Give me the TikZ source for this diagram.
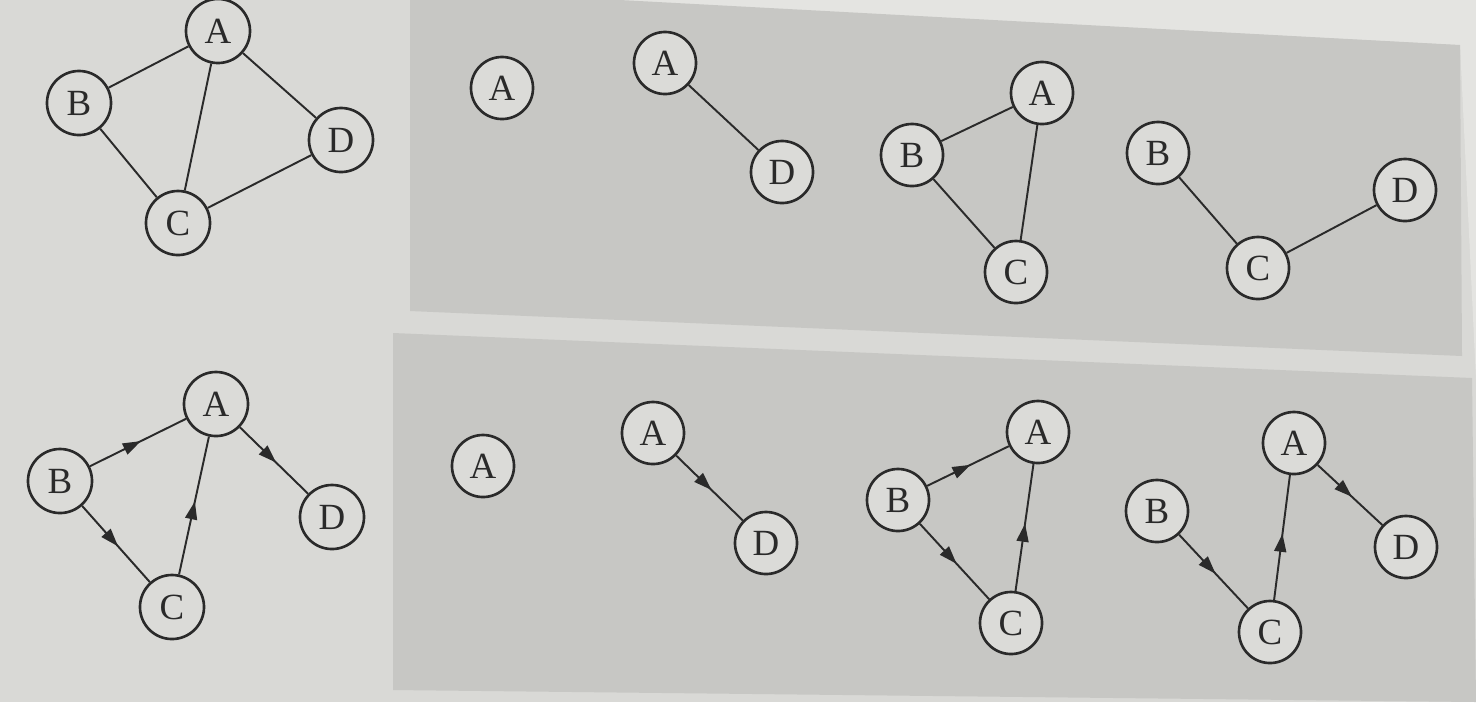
\documentclass[tikz,border=0pt]{standalone}
\usepackage{fontspec}
\setmainfont{Liberation Serif}
\usetikzlibrary{arrows.meta,decorations.markings}
\definecolor{pagebg}{HTML}{D9D9D6}
\definecolor{pagelight}{HTML}{E4E4E1}
\definecolor{panelbg}{HTML}{C7C7C4}
\definecolor{nodebg}{HTML}{DBDBD8}
\definecolor{inkc}{HTML}{2A2A2A}
\tikzset{
  vtx/.style={circle,draw=inkc,line width=0.75pt,fill=nodebg,minimum size=6.2mm,inner sep=0pt,
    font=\fontsize{10.5}{12}\selectfont,text=inkc},
  vtxbig/.style={vtx,minimum size=6.4mm},
  edge/.style={draw=inkc,line width=0.55pt},
  midarrow/.style={edge,postaction={decorate,decoration={markings,
    mark=at position 0.53 with {\arrow[inkc]{Triangle[length=1.8mm,width=1.2mm]}}}}}
}
\begin{document}
\begin{tikzpicture}[x=0.01cm,y=-0.01cm]
\useasboundingbox (0,0) rectangle (1476,702);
% page
\fill[pagebg] (0,0) rectangle (1476,702);
\fill[pagelight] (600,0) -- (1476,0) -- (1476,380) -- (1460,45) -- cycle;
% panels
\fill[panelbg] (410,0) -- (620,0) -- (1460,45) -- (1462,356) -- (410,311) -- cycle;
\fill[panelbg] (393,333) -- (1472,378) -- (1476,702) -- (393,690) -- cycle;

% top-left graph
\node[vtxbig] (a1) at (218,31) {A};
\node[vtxbig] (b1) at (79,103) {B};
\node[vtxbig] (d1) at (341,140) {D};
\node[vtxbig] (c1) at (178,223) {C};
\draw[edge] (a1) -- (b1);
\draw[edge] (a1) -- (c1);
\draw[edge] (a1) -- (d1);
\draw[edge] (b1) -- (c1);
\draw[edge] (c1) -- (d1);

% top panels
\node[vtx] (t1a) at (502,88) {A};

\node[vtx] (t2a) at (665,63) {A};
\node[vtx] (t2d) at (782,172) {D};
\draw[edge] (t2a) -- (t2d);

\node[vtx] (t3a) at (1042,93) {A};
\node[vtx] (t3b) at (912,155) {B};
\node[vtx] (t3c) at (1016,272) {C};
\draw[edge] (t3b) -- (t3a);
\draw[edge] (t3b) -- (t3c);
\draw[edge] (t3c) -- (t3a);

\node[vtx] (t4b) at (1158,153) {B};
\node[vtx] (t4d) at (1405,190) {D};
\node[vtx] (t4c) at (1258,268) {C};
\draw[edge] (t4b) -- (t4c);
\draw[edge] (t4c) -- (t4d);

% bottom-left digraph
\node[vtxbig] (a2) at (216,404) {A};
\node[vtxbig] (b2) at (60,481) {B};
\node[vtxbig] (d2) at (332,517) {D};
\node[vtxbig] (c2) at (172,607) {C};
\draw[midarrow] (b2) -- (a2);
\draw[midarrow] (b2) -- (c2);
\draw[midarrow] (c2) -- (a2);
\draw[midarrow] (a2) -- (d2);

% bottom panels
\node[vtx] (u1a) at (483,466) {A};

\node[vtx] (u2a) at (653,433) {A};
\node[vtx] (u2d) at (766,543) {D};
\draw[midarrow] (u2a) -- (u2d);

\node[vtx] (u3a) at (1038,432) {A};
\node[vtx] (u3b) at (898,500) {B};
\node[vtx] (u3c) at (1011,623) {C};
\draw[midarrow] (u3b) -- (u3a);
\draw[midarrow] (u3b) -- (u3c);
\draw[midarrow] (u3c) -- (u3a);

\node[vtx] (u4a) at (1294,443) {A};
\node[vtx] (u4b) at (1157,511) {B};
\node[vtx] (u4d) at (1406,547) {D};
\node[vtx] (u4c) at (1270,632) {C};
\draw[midarrow] (u4b) -- (u4c);
\draw[midarrow] (u4c) -- (u4a);
\draw[midarrow] (u4a) -- (u4d);
\end{tikzpicture}
\end{document}
